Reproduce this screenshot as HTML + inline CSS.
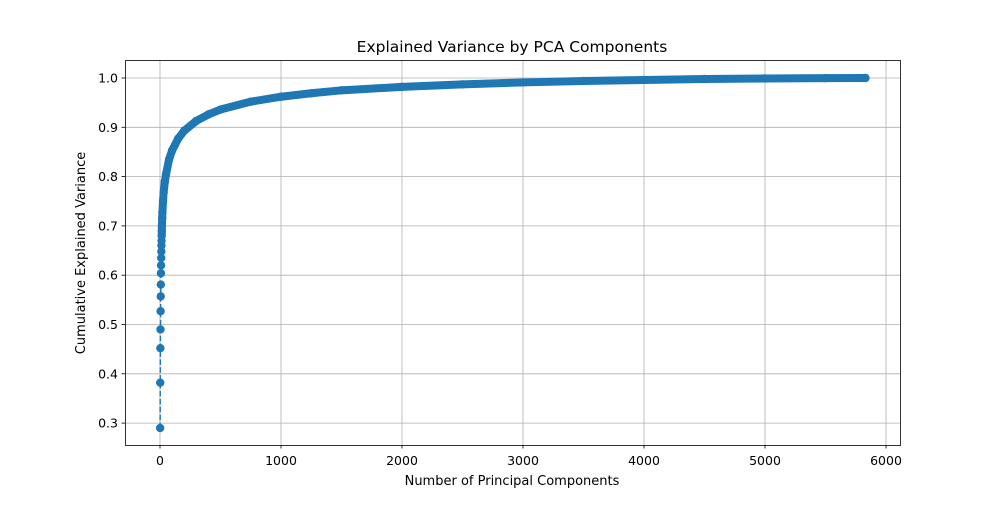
<!DOCTYPE html>
<html><head><meta charset="utf-8"><style>
body{margin:0;background:#fff;}
svg text{font-family:"DejaVu Sans","Liberation Sans",sans-serif;fill:#000;}
</style></head><body>
<svg id="chart" width="1000" height="500" xmlns="http://www.w3.org/2000/svg">
<rect width="1000" height="500" fill="#fff"/>
<g id="grid"></g>
<g id="series"></g>
<rect x="125.5" y="60.5" width="775" height="385" fill="none" stroke="#000" stroke-width="0.8"/>
<g id="ticks"></g>
<text x="512" y="52" font-size="15.5" text-anchor="middle">Explained Variance by PCA Components</text>
<text x="512" y="485" font-size="13" text-anchor="middle">Number of Principal Components</text>
<text transform="translate(85,253) rotate(-90)" font-size="13" text-anchor="middle">Cumulative Explained Variance</text>
</svg>
<script>
const components=[1,2,3,4,5,6,7,8,9,10,11,12,13,14,15,16,18,20,25,30,40,50,75,100,150,200,300,400,500,750,1000,1250,1500,2000,2500,3000,3500,4000,4500,5000,5500,5830];
const variance=[0.29,0.382,0.452,0.49,0.527,0.557,0.581,0.604,0.62,0.635,0.648,0.66,0.67,0.68,0.69,0.70,0.715,0.728,0.75,0.768,0.79,0.805,0.835,0.853,0.877,0.893,0.913,0.926,0.936,0.952,0.962,0.969,0.975,0.982,0.987,0.991,0.994,0.996,0.998,0.999,0.9997,1.0];
const xTicks=[0,1000,2000,3000,4000,5000,6000];
const yTicks=[0.3,0.4,0.5,0.6,0.7,0.8,0.9,1.0];
const NS="http://www.w3.org/2000/svg";
const X=v=>160+v*0.121;
const Y=v=>78+(1.0-v)*493;
function mk(tag,attrs,parent){const e=document.createElementNS(NS,tag);for(const k in attrs)e.setAttribute(k,attrs[k]);parent.appendChild(e);return e;}
const grid=document.getElementById('grid'),ticks=document.getElementById('ticks'),series=document.getElementById('series');
xTicks.forEach(t=>{const x=X(t);
 const g=mk('line',{x1:x,x2:x,y1:60,y2:445,stroke:'#b0b0b0','stroke-width':0.8},grid);
 
 
 const k=mk('line',{x1:x,x2:x,y1:445,y2:448.5,stroke:'#000','stroke-width':0.8},ticks);
 
 
 const l=mk('text',{x:x,y:465,'font-size':12.5,'text-anchor':'middle'},ticks);l.textContent=t;
 
 
});
yTicks.forEach(t=>{const y=Y(t);
 const g=mk('line',{x1:125,x2:900,y1:y,y2:y,stroke:'#b0b0b0','stroke-width':0.8},grid);
 
 
 const k=mk('line',{x1:121.5,x2:125,y1:y,y2:y,stroke:'#000','stroke-width':0.8},ticks);
 
 
 const l=mk('text',{x:118,y:y+4.5,'font-size':12.5,'text-anchor':'end'},ticks);l.textContent=t.toFixed(1);
 
 
});
const pts=components.map((c,i)=>X(c)+','+Y(variance[i])).join(' ');
const dl=mk('polyline',{points:pts,fill:'none',stroke:'#1f77b4','stroke-width':1.5,'stroke-dasharray':'5.5,2.4'},series);


const bandIdx=components.findIndex(c=>c>=14);
const bandPts=components.slice(bandIdx).map((c,i)=>X(c)+','+Y(variance[i+bandIdx])).join(' ');
const band=mk('polyline',{points:bandPts,fill:'none',stroke:'#1f77b4','stroke-width':8,'stroke-linecap':'round','stroke-linejoin':'round'},series);


components.forEach((c,i)=>{
 const m=mk('circle',{cx:X(c),cy:Y(variance[i]),r:4.2,fill:'#1f77b4'},series);
 
 
});
</script>
</body></html>
